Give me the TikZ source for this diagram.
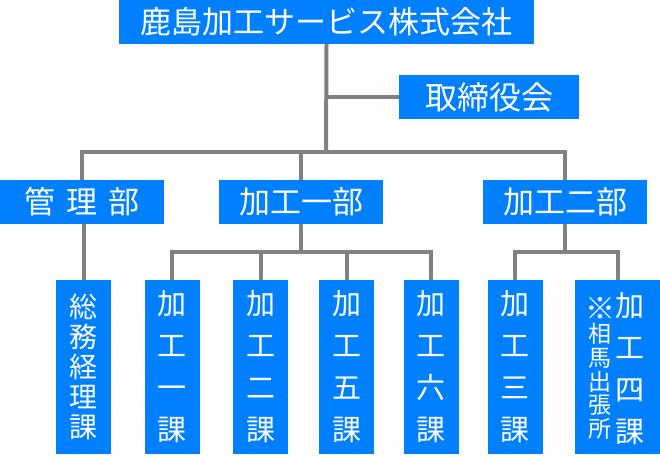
\documentclass[tikz,border=0pt]{standalone}
\usepackage{fontspec}
\setmainfont{Noto Sans CJK JP}
\definecolor{boxblue}{HTML}{0080FF}
\definecolor{linegray}{HTML}{808080}
\tikzset{
  orgbox/.style={fill=boxblue, text=white, inner sep=0pt, anchor=center},
  hbox/.style={orgbox, minimum height=44pt, font=\fontsize{31}{34}\selectfont},
  vbox/.style={orgbox, minimum width=55pt, minimum height=174pt, align=center, font=\fontsize{29}{42}\selectfont},
  conn/.style={draw=linegray, line width=4pt, line join=miter}
}
\begin{document}
\begin{tikzpicture}[x=1pt,y=-1pt]
\useasboundingbox (0,0) rectangle (660,455);
% top
\node[hbox, minimum width=415pt] (top) at (326.5,22) {鹿島加工サービス株式会社};
\node[hbox, minimum width=180pt, font=\fontsize{32}{34}\selectfont] (board) at (489,97) {取締役会};
% departments
\node[hbox, minimum width=164pt] (kanri) at (82,202) {管\hspace{11pt}理\hspace{11pt}部};
\node[hbox, minimum width=164pt] (bu1) at (301,202) {加工一部};
\node[hbox, minimum width=164pt] (bu2) at (565,202) {加工二部};
% sections
\node[vbox, font=\fontsize{28}{30}\selectfont] (soumu) at (83.5,367) {総\\務\\経\\理\\課};
\node[vbox] (ka1) at (172,367) {加\\工\\一\\課};
\node[vbox] (ka2) at (260.5,367) {加\\工\\二\\課};
\node[vbox] (ka5) at (346.5,367) {加\\工\\五\\課};
\node[vbox] (ka6) at (431,367) {加\\工\\六\\課};
\node[vbox] (ka3) at (515,367) {加\\工\\三\\課};
\node[vbox, minimum width=85pt] (ka4) at (617.5,367) {};
\node[text=white, inner sep=0pt, align=center, font=\fontsize{29}{42}\selectfont] (ka4main) at (630,369) {加\\工\\四\\課};
\node[text=white, inner sep=0pt, align=center, font=\fontsize{23}{23.8}\selectfont] (ka4sub) at (600,369.5) {\vphantom{相}\smash{\raisebox{-1pt}{\scalebox{1.3}{※}}}\\相\\馬\\出\\張\\所};
% junctions
\coordinate (j1) at (326,152);
\coordinate (j2) at (301,252);
\coordinate (j3) at (565,252);
% connectors
\draw[conn] (top.south) -- (j1);
\draw[conn] (top.south |- board.west) -- (board.west);
\draw[conn] (kanri.north) -- (kanri.north |- j1) -- (bu2.north |- j1) -- (bu2.north);
\draw[conn] (bu1.north) -- (bu1.north |- j1);
\draw[conn] (kanri.south -| soumu.north) -- (soumu.north);
\draw[conn] (bu1.south) -- (j2);
\draw[conn] (ka1.north) -- (ka1.north |- j2) -- (ka6.north |- j2) -- (ka6.north);
\draw[conn] (ka2.north) -- (ka2.north |- j2);
\draw[conn] (ka5.north) -- (ka5.north |- j2);
\draw[conn] (bu2.south) -- (j3);
\draw[conn] (ka3.north) -- (ka3.north |- j3) -- (ka4.north |- j3) -- (ka4.north);
\end{tikzpicture}
\end{document}
